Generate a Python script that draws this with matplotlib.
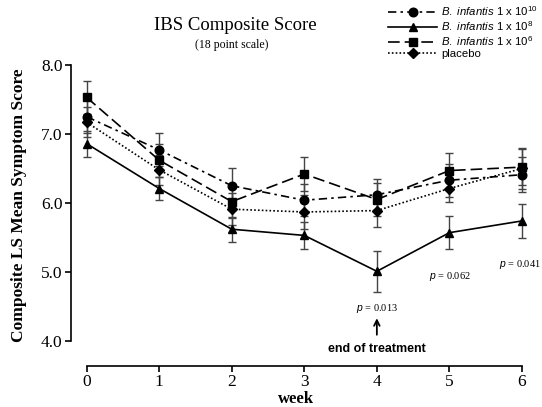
import numpy as np
import matplotlib.pyplot as plt
from matplotlib.lines import Line2D

plt.rcParams['mathtext.fontset'] = 'custom'
plt.rcParams['mathtext.rm'] = 'Liberation Sans'
plt.rcParams['mathtext.it'] = 'Liberation Sans:italic'

weeks = [0, 1, 2, 3, 4, 5, 6]

# LS mean symptom scores
inf_1e10 = [7.25, 6.77, 6.25, 6.04, 6.12, 6.33, 6.41]
inf_1e8 = [6.86, 6.21, 5.62, 5.53, 5.01, 5.57, 5.74]
inf_1e6 = [7.53, 6.62, 6.02, 6.42, 6.05, 6.47, 6.52]
placebo = [7.17, 6.48, 5.91, 5.87, 5.89, 6.21, 6.50]

# standard errors (estimated)
se_1e10 = [0.24, 0.24, 0.25, 0.23, 0.23, 0.24, 0.25]
se_1e8 = [0.19, 0.16, 0.18, 0.19, 0.30, 0.24, 0.25]
se_1e6 = [0.24, 0.24, 0.24, 0.24, 0.24, 0.25, 0.26]
se_placebo = [0.22, 0.22, 0.23, 0.24, 0.24, 0.20, 0.30]

labels = [r'$\it{B.\ infantis}$ 1 x 10$^{10}$',
          r'$\it{B.\ infantis}$ 1 x 10$^{8}$',
          r'$\it{B.\ infantis}$ 1 x 10$^{6}$',
          'placebo']

pvals = ['0.013', '0.062', '0.041']
p_weeks = [4, 5, 6]

serif = 'Liberation Serif'
sans = 'Liberation Sans'

fig = plt.figure(figsize=(5.42, 4.07), dpi=100)
ax = fig.add_axes([0.131, 0.1015, 0.832, 0.7388])

series = [
    (inf_1e10, se_1e10, 'o', (0, (5, 2.5, 1.5, 2.5))),
    (inf_1e8, se_1e8, '^', '-'),
    (inf_1e6, se_1e6, 's', (0, (7, 3))),
    (placebo, se_placebo, 'D', (0, (1, 1.3))),
]

handles = []
for vals, se, mk, ls in series:
    ms = 5.5 if mk == 'D' else 6.2
    ax.errorbar(weeks, vals, yerr=se, fmt='none', ecolor='#444444',
                elinewidth=1.0, capsize=3, capthick=1.0, clip_on=False, zorder=2)
    ln, = ax.plot(weeks, vals, color='black', linestyle=ls, linewidth=1.2,
                  marker=mk, markersize=ms, clip_on=False, zorder=3)
    handles.append(ln)

ax.set_xlim(-0.216, 6.0)
ax.set_ylim(3.642, 8.0)

for s in ['top', 'right']:
    ax.spines[s].set_visible(False)
ax.spines['left'].set_bounds(4.0, 8.0)
ax.spines['bottom'].set_bounds(0, 6)
ax.spines['left'].set_linewidth(1.2)
ax.spines['bottom'].set_linewidth(1.2)

ax.set_xticks(weeks)
ax.set_yticks([4.0, 5.0, 6.0, 7.0, 8.0])
ax.set_yticklabels(['4.0', '5.0', '6.0', '7.0', '8.0'])
ax.tick_params(axis='both', direction='out', length=4, width=1.2,
               labelsize=12.5, pad=2)
for t in ax.get_xticklabels() + ax.get_yticklabels():
    t.set_fontfamily(serif)

ax.set_xlabel('week', fontfamily=serif, fontweight='bold', fontsize=12,
              labelpad=1)
ax.set_ylabel('Composite LS Mean Symptom Score', fontfamily=serif,
              fontweight='bold', fontsize=12.5)
ax.yaxis.set_label_coords(-0.097, 0.535)

fig.text(0.435, 0.938, 'IBS Composite Score', fontfamily=serif,
         fontsize=13.5, ha='center', va='center')
fig.text(0.428, 0.889, '(18 point scale)', fontfamily=serif,
         fontsize=8.5, ha='center', va='center')

# p-values
p_y = [4.47, 4.93, 5.11]
p_x = [4.0, 5.0, 5.97]
for px, py, pv in zip(p_x, p_y, pvals):
    ax.text(px, py, r'$p$ = ' + pv, fontfamily=serif, fontsize=7.5,
            ha='center', va='center')

ax.annotate('', xy=(4.0, 4.37), xytext=(4.0, 4.05),
            arrowprops=dict(arrowstyle='->', color='black', lw=1.3))
ax.text(4.0, 3.88, 'end of treatment', fontfamily=sans, fontweight='bold',
        fontsize=9, ha='center', va='center')

leg = fig.legend(handles, labels, loc='upper left',
                 bbox_to_anchor=(0.708, 1.0), frameon=False,
                 fontsize=8.2, handlelength=4.3, handletextpad=0.35,
                 labelspacing=0.1, borderaxespad=0)
for t in leg.get_texts():
    t.set_fontfamily(sans)

fig.savefig('out.png', dpi=100)
